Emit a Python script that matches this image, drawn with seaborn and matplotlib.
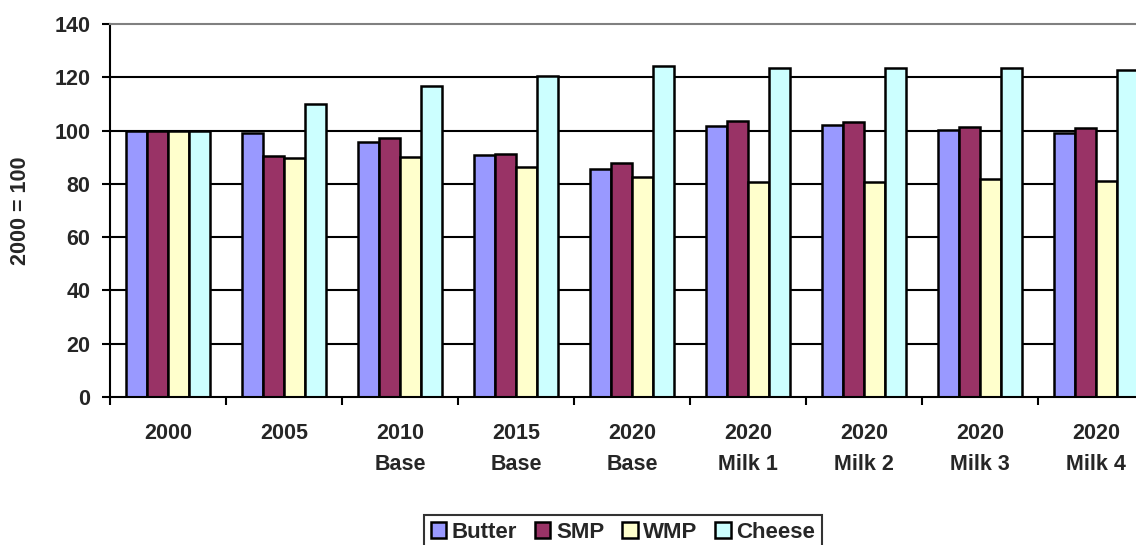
import numpy as np
import pandas as pd
import seaborn as sns
import matplotlib.pyplot as plt
from matplotlib.ticker import FixedLocator

# ===============================
# DATA (index, 2000 = 100)
# ===============================
scenarios = ["2000", "2005", "2010\nBase", "2015\nBase", "2020\nBase",
             "2020\nMilk 1", "2020\nMilk 2", "2020\nMilk 3", "2020\nMilk 4"]
products = ["Butter", "SMP", "WMP", "Cheese"]

butter = [100, 99.0, 95.6, 90.8, 85.7, 101.8, 102.0, 100.2, 99.0]
smp    = [100, 90.6, 97.3, 91.1, 87.7, 103.5, 103.4, 101.5, 100.8]
wmp    = [100, 89.8, 90.1, 86.5, 82.7, 80.6, 80.6, 81.8, 81.2]
cheese = [100, 110.1, 116.9, 120.5, 124.2, 123.6, 123.6, 123.3, 122.7]

colors = ["#9999FF", "#993366", "#FFFFCC", "#CCFFFF"]

df = pd.DataFrame({
    "scenario": scenarios * 4,
    "product": np.repeat(products, len(scenarios)),
    "value": butter + smp + wmp + cheese,
})

# ===============================
# PLOT
# ===============================
sns.set_style("white")
plt.rcParams["font.family"] = ["Liberation Sans", "DejaVu Sans"]
plt.rcParams["font.weight"] = "bold"
FS = 15.5

W, H = 1136, 545
fig = plt.figure(figsize=(W / 100, H / 100), dpi=100)
ax = fig.add_axes([110 / W, (H - 397) / H, 1044 / W, 373 / H])

sns.barplot(
    data=df, x="scenario", y="value", hue="product",
    order=scenarios, hue_order=products,
    palette=colors, saturation=1, width=0.72,
    edgecolor="black", linewidth=1.8, ax=ax,
)

ax.set_xlim(-0.5, len(scenarios) - 0.5)
ax.set_ylim(0, 140)
ax.set_yticks(range(0, 141, 20))
ax.set_axisbelow(True)
for y in range(20, 121, 20):
    ax.axhline(y, color="black", lw=1.5, zorder=0)

for side in ["top", "right"]:
    ax.spines[side].set_color("#808080")
    ax.spines[side].set_linewidth(1.5)
for side in ["left", "bottom"]:
    ax.spines[side].set_color("black")
    ax.spines[side].set_linewidth(1.5)

# ticks between categories, labels centred
ax.xaxis.set_minor_locator(FixedLocator(np.arange(-0.5, len(scenarios), 1)))
ax.tick_params(axis="x", which="major", length=0, pad=19, labelsize=FS)
ax.tick_params(axis="x", which="minor", length=6, width=1.5, color="black",
               direction="out", bottom=True)
ax.tick_params(axis="y", length=6, width=1.5, color="black", direction="out",
               left=True, pad=8, labelsize=FS)
for t in ax.get_xticklabels():
    t.set_linespacing(1.6)
    t.set_fontweight("bold")
for t in ax.get_yticklabels():
    t.set_fontweight("bold")

ax.set_xlabel("")
ax.set_ylabel("2000 = 100", fontsize=FS, fontweight="bold", va="center")
ax.yaxis.set_label_coords((21 - 110) / 1044, 0.5)

ax.legend_.remove()
handles, labels = ax.get_legend_handles_labels()
leg = fig.legend(
    handles, labels, loc="center", bbox_to_anchor=(623 / W, 1 - 532 / H),
    ncol=4, frameon=True, fancybox=False, edgecolor="black",
    handlelength=0.7, handleheight=0.7, handletextpad=0.25,
    columnspacing=0.8, borderpad=0.3, borderaxespad=0,
    prop={"size": 16, "weight": "bold"},
)
leg.get_frame().set_linewidth(1.5)

fig.savefig("out.png", dpi=100)
